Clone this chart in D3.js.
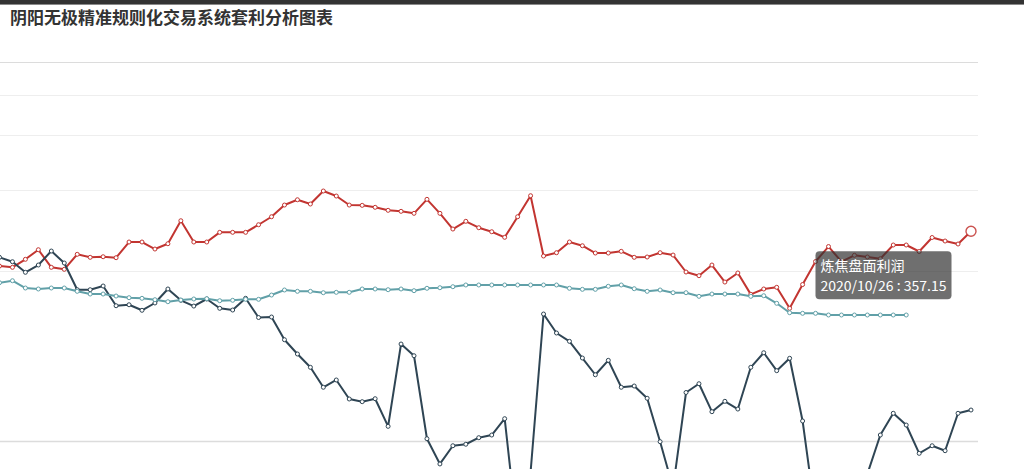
<!DOCTYPE html>
<html>
<head>
<meta charset="utf-8">
<script src="https://cdn.jsdelivr.net/npm/d3@7/dist/d3.min.js"></script>
<style>
  html, body { margin: 0; padding: 0; background: #fff; overflow: hidden; }
  svg { display: block; font-family: "Noto Sans CJK SC", "Noto Sans", sans-serif; }
</style>
</head>
<body>
<svg id="chart" width="1024" height="469"></svg>
<script>
// ---------------- data ----------------
const titleText = "阴阳无极精准规则化交易系统套利分析图表";

const categories = [
  "2020/07/03","2020/07/06","2020/07/07","2020/07/08","2020/07/09","2020/07/10",
  "2020/07/13","2020/07/14","2020/07/15","2020/07/16","2020/07/17",
  "2020/07/20","2020/07/21","2020/07/22","2020/07/23","2020/07/24",
  "2020/07/27","2020/07/28","2020/07/29","2020/07/30","2020/07/31",
  "2020/08/03","2020/08/04","2020/08/05","2020/08/06","2020/08/07",
  "2020/08/10","2020/08/11","2020/08/12","2020/08/13","2020/08/14",
  "2020/08/17","2020/08/18","2020/08/19","2020/08/20","2020/08/21",
  "2020/08/24","2020/08/25","2020/08/26","2020/08/27","2020/08/28",
  "2020/08/31","2020/09/01","2020/09/02","2020/09/03","2020/09/04",
  "2020/09/07","2020/09/08","2020/09/09","2020/09/10","2020/09/11",
  "2020/09/14","2020/09/15","2020/09/16","2020/09/17","2020/09/18",
  "2020/09/21","2020/09/22","2020/09/23","2020/09/24","2020/09/25",
  "2020/09/28","2020/09/29","2020/09/30","2020/10/09",
  "2020/10/12","2020/10/13","2020/10/14","2020/10/15","2020/10/16",
  "2020/10/19","2020/10/20","2020/10/21","2020/10/22","2020/10/23",
  "2020/10/26"
];

const seriesNames = ["炼焦盘面利润", "焦化现货利润", "焦煤盘面价差"];

const cokingProfit = [
  262.5,259.4,279.3,304.4,259.4,254.6,292.2,284.4,285.9,283.4,
  325.7,325.7,306.3,320.9,389.9,325.7,325.7,353.9,353.9,353.9,
  377.2,402.9,442.9,461.9,446.5,494.7,475.7,442.9,441.8,434.9,
  424.5,421.1,414.3,463.5,414.3,363.9,388.1,367.9,355.7,339.2,
  402.9,476.8,287.8,296.4,325.7,315.3,295.6,295.6,300.1,284.4,
  285.2,296.4,290.3,248.2,239.6,265.0,225.3,245.9,199.0,210.2,
  213.8,171.5,219.8,273.7,313.1,273.2,289.6,285.2,280.8,317.3,
  317.3,299.6,338.6,328.5,320.1,357.15
];

const spotProfit = [
  284.4,273.2,247.5,265.0,300.9,270.0,208.7,208.7,216.6,176.4,
  178.3,167.8,181.7,210.2,187.0,175.8,189.6,171.5,168.3,191.0,
  154.6,155.5,117.5,96.2,77.9,53.1,61.8,39.9,37.0,40.2,
  12.5,110.9,93.7,1.5,-21.3,-4.5,-3.2,2.4,4.7,19.7,
  -109.4,-29.3,160.9,128.2,115.0,90.5,68.3,87.3,53.1,54.6,
  40.7,-1.0,-46.5,47.1,57.3,26.6,37.4,29.3,77.9,98.0,
  73.5,90.1,17.5,-81.0,-115.0,-103.0,-73.0,-31.4,4.7,25.0,
  13.7,-11.3,-4.5,-8.9,25.0,28.3
];

const spreadValues = [
  223.8,228.2,212.3,210.2,212.3,212.3,205.3,199.7,199.7,195.6,
  192.2,191.0,188.2,184.2,187.6,189.6,190.2,186.2,187.0,189.0,
  189.0,197.6,208.1,205.3,205.3,202.4,203.2,203.2,210.2,210.2,
  208.7,210.2,206.6,211.7,212.9,215.1,218.8,218.8,218.8,218.8,
  218.8,218.8,218.8,218.8,211.7,209.5,209.5,216.0,218.8,210.8,
  205.3,208.1,202.4,202.4,195.0,199.7,199.7,199.7,195.0,196.2,
  181.1,163.3,162.2,162.2,159.1,159.1,159.1,159.1,159.1,159.1,
  159.1,null,null,null,null,null
];

const yTicks = [0, 250, 500, 750, 1000, 1250];
const seriesColors = ["#c23531", "#2f4554", "#61a0a8"];
const hoverIndex = categories.length - 1;

// ---------------- chart ----------------
const svg = d3.select("#chart");
const W = 1024, H = 469;

// top dark strip
svg.append("rect").attr("x", 0).attr("y", 0).attr("width", W).attr("height", 4).attr("fill", "#333");
svg.append("rect").attr("x", 0).attr("y", 4).attr("width", W).attr("height", 1).attr("fill", "#8a8a8a");

// title
svg.append("text")
  .attr("x", 10).attr("y", 24)
  .attr("font-size", 17).attr("font-weight", "bold")
  .attr("fill", "#333")
  .text(titleText);

const x = d3.scalePoint().domain(categories).range([-0.5, 971]);
const y = d3.scaleSymlog().constant(250 / 1.8).domain([0, 1250]).range([440.5, 62]);

// split lines
const gridG = svg.append("g");
gridG.selectAll("line").data(yTicks).enter().append("line")
  .attr("x1", -10).attr("x2", 978)
  .attr("y1", d => Math.round(y(d)) + 0.5).attr("y2", d => Math.round(y(d)) + 0.5)
  .attr("stroke", (d, i) => (i === 0 || i === yTicks.length - 1) ? "#dcdcdc" : "#eeeeee")
  .attr("stroke-width", (d, i) => i === 0 ? 1.6 : 1);

const seriesData = [cokingProfit, spotProfit, spreadValues];

const line = d3.line()
  .defined(d => d.v !== null && d.v !== undefined)
  .x(d => x(d.c))
  .y(d => y(d.v));

seriesData.forEach((vals, si) => {
  const pts = categories.map((c, i) => ({ c, v: vals[i], i }));
  const g = svg.append("g");
  g.append("path")
    .datum(pts)
    .attr("fill", "none")
    .attr("stroke", seriesColors[si])
    .attr("stroke-width", 2)
    .attr("stroke-linejoin", "round")
    .attr("d", line);
  g.selectAll("circle")
    .data(pts.filter(d => d.v !== null && d.v !== undefined && !(si === 0 && d.i === hoverIndex)))
    .enter().append("circle")
    .attr("cx", d => x(d.c))
    .attr("cy", d => y(d.v))
    .attr("r", 2)
    .attr("fill", "#fff")
    .attr("stroke", seriesColors[si])
    .attr("stroke-width", 1);
  if (si === 0) {
    g.append("circle")
      .attr("cx", x(categories[hoverIndex]))
      .attr("cy", y(vals[hoverIndex]))
      .attr("r", 5)
      .attr("fill", "#fff")
      .attr("stroke", seriesColors[si])
      .attr("stroke-opacity", 0.85)
      .attr("stroke-width", 1.4);
  }
});

// tooltip
const hx = x(categories[hoverIndex]);
const hy = y(cokingProfit[hoverIndex]);
const tipW = 136, tipH = 48;
const tipX = hx - 19.5 - tipW;
const tipY = hy + 20;
const tip = svg.append("g");
tip.append("rect")
  .attr("x", tipX).attr("y", tipY)
  .attr("width", tipW).attr("height", tipH)
  .attr("rx", 4).attr("ry", 4)
  .attr("fill", "rgba(50,50,50,0.7)");
tip.append("text")
  .attr("x", tipX + 5).attr("y", tipY + 19.5)
  .attr("font-size", 14).attr("fill", "#fff")
  .text(seriesNames[0]);
tip.append("text")
  .attr("x", tipX + 5).attr("y", tipY + 40)
  .attr("font-size", 14).attr("fill", "#fff")
  .text(categories[hoverIndex] + " : " + cokingProfit[hoverIndex]);
</script>
</body>
</html>
